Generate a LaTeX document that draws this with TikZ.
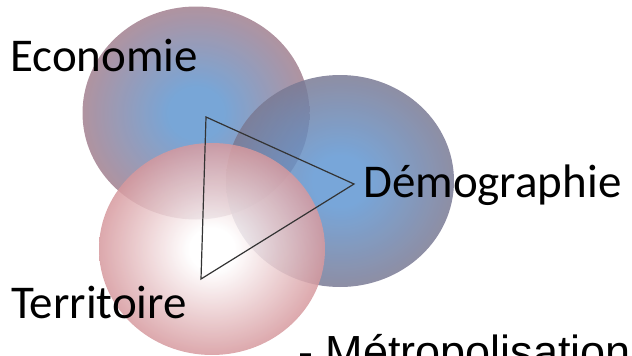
\documentclass[tikz,border=0pt]{standalone}
\usepackage{fontspec}
\setmainfont{Carlito}
\newfontfamily\arialfont{Liberation Sans}

\definecolor{econin}{HTML}{6096D0}
\definecolor{econout}{HTML}{A2808F}
\definecolor{demoin}{HTML}{6096D2}
\definecolor{demoout}{HTML}{7A7A94}
\definecolor{terrin}{HTML}{FFFFFF}
\definecolor{terrout}{HTML}{D6999E}
\definecolor{triline}{HTML}{333333}

\pgfdeclareradialshading{econblob}{\pgfpointorigin}{color(0bp)=(econin); color(6bp)=(econin); color(25bp)=(econout); color(50bp)=(econout)}
\pgfdeclareradialshading{demoblob}{\pgfpointorigin}{color(0bp)=(demoin); color(6bp)=(demoin); color(25bp)=(demoout); color(50bp)=(demoout)}
\pgfdeclareradialshading{terrblob}{\pgfpointorigin}{color(0bp)=(terrin); color(5bp)=(terrin); color(25bp)=(terrout); color(50bp)=(terrout)}

\tikzset{
  blob/.style={opacity=0.85},
  lbl/.style={anchor=base west, inner sep=0pt, font=\fontsize{47}{56}\selectfont},
}

\begin{document}
\begin{tikzpicture}[x=1pt,y=-1pt]
\useasboundingbox (0,0) rectangle (632,356); % adjust bounding box
\shade[blob,shading=econblob] (196,113) ellipse [x radius=113.5pt, y radius=106.5pt];
\shade[blob,shading=demoblob] (340,181) ellipse [x radius=114pt, y radius=106pt];
\shade[blob,shading=terrblob] (212,249) ellipse [x radius=113pt, y radius=106pt];
\coordinate (e) at (206,117);
\coordinate (d) at (354,184);
\coordinate (t) at (201,279);
\draw[triline, line width=1.2pt, line join=miter] (e) -- (d) -- (t) -- cycle;
\node[lbl] (econ) at (10,71) {Economie};
\node[lbl] (demo) at (363,197) {Démographie};
\node[lbl] (terr) at (11,318) {Territoire};
\node[lbl, font=\arialfont\fontsize{45}{54}\selectfont] (metro) at (298,367) {- Métropolisation};
\end{tikzpicture}
\end{document}
